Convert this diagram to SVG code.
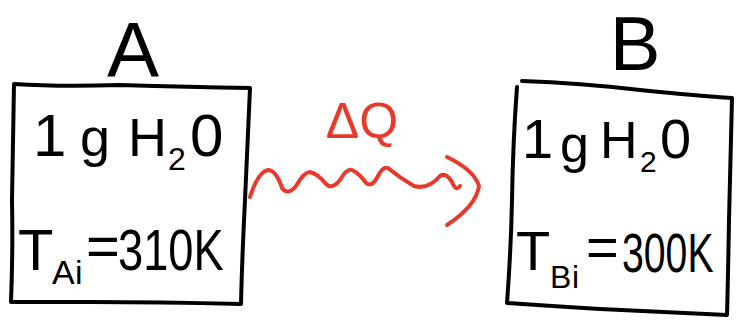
<svg xmlns="http://www.w3.org/2000/svg" width="736" height="320" viewBox="0 0 736 320">
<style>
.box{fill:none;stroke:#000;stroke-width:4;stroke-linejoin:round;stroke-linecap:round}
.t{font-family:"Liberation Sans",Arial,sans-serif;fill:#000}
.red{fill:none;stroke:#e8392a;stroke-width:4;stroke-linecap:round;stroke-linejoin:round}
.rt{font-family:"Liberation Sans",Arial,sans-serif;fill:#e8392a}
</style>
<rect width="736" height="320" fill="#fff"/>
<g id="nodeA">
<path class="box" d="M14,84 Q60,87 120,85 Q190,87 250,88 Q247,150 245,200 Q242,260 241,304 Q160,302 90,302 Q40,302 11,302 Q13,250 12,200 Q13,140 14,84 Z"/>
<text class="t" x="133" y="77" font-size="78" text-anchor="middle">A</text>
<text class="t" y="156" font-size="60"><tspan x="33">1</tspan><tspan x="80" font-size="54">g</tspan><tspan x="128" font-size="54">H</tspan><tspan x="168" y="170" font-size="32">2</tspan><tspan x="190" y="156">0</tspan></text>
<text class="t" y="270" font-size="58"><tspan x="18">T</tspan><tspan x="52" y="284" font-size="34">A</tspan><tspan x="75" font-size="34">i</tspan><tspan x="86" y="266">=</tspan></text>
<text class="t" font-size="58" transform="translate(118,270) scale(0.78,1)">310K</text>
</g>
<g id="nodeB">
<path class="box" d="M522,81 Q580,83 640,90 Q700,96 732,98 Q730,170 729,220 Q728,280 727,315 Q660,312 600,309 Q550,306 507,303 Q511,250 512,200 Q513,140 517,87"/>
<text class="t" x="635" y="70" font-size="76" text-anchor="middle">B</text>
<text class="t" y="158" font-size="56"><tspan x="522">1</tspan><tspan x="560" y="162" font-size="52">g</tspan><tspan x="600" y="158" font-size="52">H</tspan><tspan x="640" y="172" font-size="30">2</tspan><tspan x="660" y="158">0</tspan></text>
<text class="t" y="270" font-size="56"><tspan x="516">T</tspan><tspan x="550" y="288" font-size="32">B</tspan><tspan x="572" font-size="32">i</tspan><tspan x="586" y="266">=</tspan></text>
<text class="t" font-size="56" transform="translate(622,272) scale(0.7,1)">300K</text>
</g>
<g id="connectors">
<path class="red" d="M250,197 Q258,172 268,170 Q276,170 282,188 Q288,196 296,186 Q304,172 310,172 Q318,174 326,184 Q332,190 340,180 Q347,168 352,170 Q360,174 366,183 Q372,188 378,176 Q383,166 388,168 Q400,178 414,186 Q428,190 440,176 Q446,172 452,182 Q456,192 460,186"/>
<path class="red" d="M447,157 Q474,170 479,186 Q476,206 447,225"/>
<text class="rt" x="362" y="138" font-size="50" text-anchor="middle">ΔQ</text>
</g>
</svg>
